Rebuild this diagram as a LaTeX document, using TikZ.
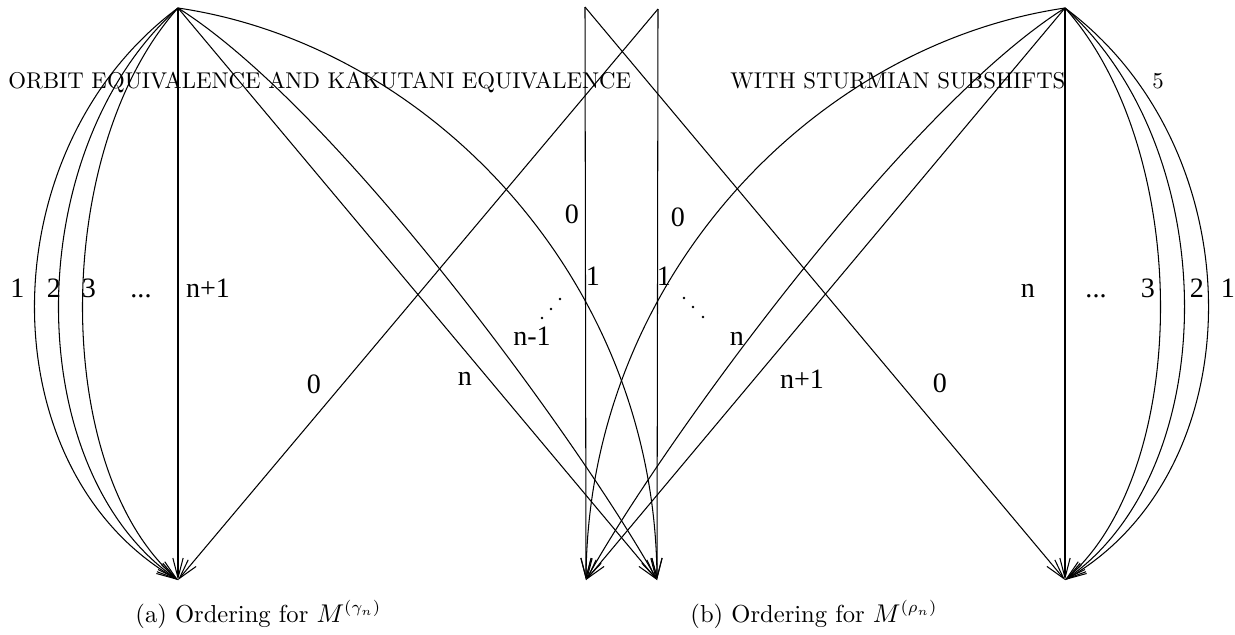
\documentclass[tikz,border=0pt]{standalone}
\usepackage{fontspec}
\newfontfamily\labfont{Liberation Serif}
\usetikzlibrary{arrows.meta}
\begin{document}
\begin{tikzpicture}[x=0.42735pt,y=-0.42735pt,
  edge/.style={line width=0.45pt,-{Straight Barb[length=8.5pt,width=4.4pt,line width=0.45pt]}},
  lab/.style={font=\labfont\fontsize{12}{14}\selectfont,anchor=base,inner sep=0pt},
  head/.style={font=\fontsize{9.75}{11}\selectfont,anchor=base west,inner sep=0pt},
  capt/.style={font=\fontsize{10.5}{12}\selectfont,anchor=base west,inner sep=0pt},
  dotm/.style={radius=1.4}]
\useasboundingbox (0,0) rectangle (1235,634);
% vertices
\coordinate (TA) at (178,8);
\coordinate (BA) at (178,580);
\coordinate (T2) at (658,9);
\coordinate (B2) at (657,580);
\coordinate (TB) at (1065,8);
\coordinate (BB) at (1065,580);
\coordinate (T1) at (585,7);
\coordinate (B1) at (586,580);
% header
\node[head] (h1) at (8,88) {ORBIT EQUIVALENCE AND KAKUTANI EQUIVALENCE};
\node[head] (h2) at (730,88) {WITH STURMIAN SUBSHIFTS};
\node[head,anchor=base] (pg) at (1158,88) {5};
% (a) edges
\draw[edge] (TA) .. controls (-13,150) and (-13,470) .. (BA);
\draw[edge] (TA) .. controls (19,150) and (19,470) .. (BA);
\draw[edge] (TA) .. controls (51,150) and (51,470) .. (BA);
\draw[edge] (TA) -- (BA);
\draw[edge] (TA) .. controls (430,45) and (655,280) .. (B2);
\draw[edge] (TA) .. controls (340,110) and (585,450) .. (B2);
\draw[edge] (TA) -- (B2);
\draw[edge] (T2) -- (BA);
\draw[edge] (T2) -- (B2);
% (b) edges
\draw[edge] (TB) .. controls (1256,150) and (1256,470) .. (BB);
\draw[edge] (TB) .. controls (1224,150) and (1224,470) .. (BB);
\draw[edge] (TB) .. controls (1192,150) and (1192,470) .. (BB);
\draw[edge] (TB) -- (BB);
\draw[edge] (TB) .. controls (813,45) and (588,280) .. (B1);
\draw[edge] (TB) .. controls (903,110) and (658,450) .. (B1);
\draw[edge] (TB) -- (B1);
\draw[edge] (T1) -- (BB);
\draw[edge] (T1) -- (B1);
% (a) labels
\node[lab] (a1) at (17.5,297) {1};
\node[lab] (a2) at (54,297) {2};
\node[lab] (a3) at (89,297) {3};
\node[lab] (ad) at (141,297) {...};
\node[lab] (an1) at (208,297) {n+1};
\node[lab] (a0) at (314,393) {0};
\node[lab] (an) at (465,385) {n};
\node[lab] (anm) at (532,345) {n-1};
\node[lab] (am0) at (572,223) {0};
\node[lab] (am1) at (593,285) {1};
\fill[dotm] (542,318) circle;
\fill[dotm] (551,309) circle;
\fill[dotm] (560,299) circle;
% (b) labels
\node[lab] (b1) at (1228,297) {1};
\node[lab] (b2) at (1197,297) {2};
\node[lab] (b3) at (1148,297) {3};
\node[lab] (bd) at (1096,297) {...};
\node[lab] (bn) at (1028,297) {n};
\node[lab] (b0) at (940,392) {0};
\node[lab] (bn1) at (802,388) {n+1};
\node[lab] (bn2) at (737,345) {n};
\node[lab] (bm0) at (678,226) {0};
\node[lab] (bm1) at (664,285) {1};
\fill[dotm] (684,298) circle;
\fill[dotm] (693,307) circle;
\fill[dotm] (703,317) circle;
% captions
\node[capt] (ca) at (135,622) {(a) Ordering for $M^{(\gamma_n)}$};
\node[capt] (cb) at (690,622) {(b) Ordering for $M^{(\rho_n)}$};
\end{tikzpicture}
\end{document}
